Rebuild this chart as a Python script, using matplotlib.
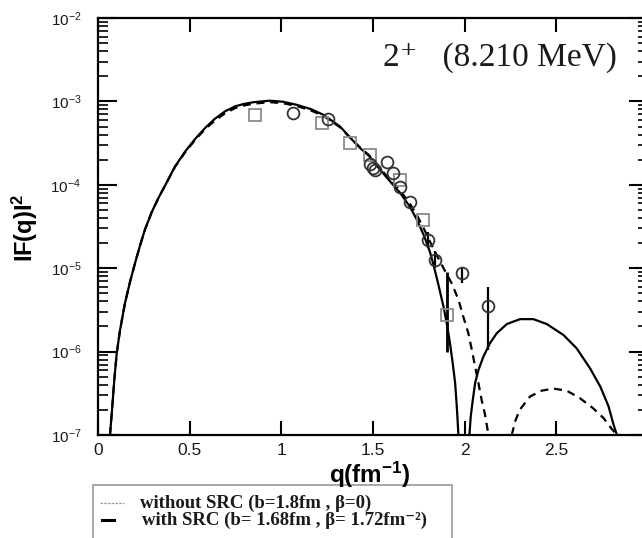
#!/usr/bin/env python3
"""Form factor |F(q)|^2 of the 2+ (8.210 MeV) state with and without SRC."""
import numpy as np
import matplotlib
matplotlib.use('Agg')
import matplotlib.pyplot as plt
from matplotlib.lines import Line2D
from matplotlib.patches import Rectangle
from matplotlib.ticker import LogLocator, FuncFormatter, NullLocator

# with SRC (b = 1.68 fm, beta = 1.72 fm^-2): two diffraction lobes
src_q1 = [0.0655, 0.078, 0.089, 0.102, 0.120, 0.147, 0.175, 0.202, 0.229, 0.256, 0.293, 0.329, 0.375,
          0.42, 0.475, 0.53, 0.584, 0.638, 0.693, 0.747, 0.793, 0.85, 0.938, 1.01, 1.084, 1.16, 1.23,
          1.32, 1.39, 1.43, 1.48, 1.52, 1.59, 1.65, 1.70, 1.74, 1.78, 1.81, 1.83, 1.857, 1.884, 1.902,
          1.92, 1.935, 1.948, 1.957, 1.966]
src_f1 = [1.0e-7, 2.2e-7, 4.6e-7, 9.5e-7, 1.8e-6, 3.8e-6, 6.9e-6, 1.15e-5, 1.86e-5, 2.9e-5, 4.7e-5, 6.9e-5, 1.07e-4,
          1.66e-4, 2.5e-4, 3.55e-4, 4.8e-4, 6.2e-4, 7.6e-4, 8.7e-4, 9.3e-4, 9.8e-4, 1.02e-3, 9.9e-4, 9.1e-4, 8.1e-4, 6.9e-4,
          5.0e-4, 3.4e-4, 2.75e-4, 2.2e-4, 1.7e-4, 1.12e-4, 7.9e-5, 5.5e-5, 3.8e-5, 2.4e-5, 1.58e-5, 1.1e-5, 6.3e-6, 3.5e-6, 2.2e-6,
          1.26e-6, 7.2e-7, 4.2e-7, 2.2e-7, 1.0e-7]
src_q2 = [2.026, 2.033, 2.044, 2.057, 2.075, 2.102, 2.138, 2.175, 2.23, 2.302, 2.375, 2.448, 2.539,
          2.61, 2.684, 2.74, 2.785, 2.81, 2.83]
src_f2 = [1.0e-7, 1.66e-7, 2.6e-7, 4.2e-7, 6.0e-7, 8.7e-7, 1.26e-6, 1.66e-6, 2.14e-6, 2.45e-6, 2.45e-6, 2.14e-6, 1.58e-6,
          1.1e-6, 6.3e-7, 3.8e-7, 2.2e-7, 1.38e-7, 1.0e-7]

# without SRC (b = 1.8 fm, beta = 0)
nosrc_q1 = [0.0655, 0.078, 0.089, 0.102, 0.120, 0.147, 0.175, 0.202, 0.229, 0.256, 0.293, 0.329, 0.375,
            0.42, 0.475, 0.53, 0.584, 0.638, 0.693, 0.747, 0.793, 0.85, 0.938, 1.01, 1.084, 1.16, 1.23,
            1.32, 1.39, 1.43, 1.48, 1.52, 1.59, 1.65, 1.70, 1.74, 1.78, 1.81, 1.85, 1.89, 1.929, 1.966,
            1.993, 2.02, 2.039, 2.057, 2.075, 2.093, 2.11, 2.13]
nosrc_f1 = [1.0e-7, 2.2e-7, 4.6e-7, 9.5e-7, 1.8e-6, 3.8e-6, 6.9e-6, 1.15e-5, 1.86e-5, 2.9e-5, 4.7e-5, 6.9e-5, 1.07e-4,
            1.64e-4, 2.45e-4, 3.45e-4, 4.65e-4, 5.9e-4, 7.2e-4, 8.3e-4, 8.9e-4, 9.4e-4, 9.8e-4, 9.5e-4, 8.8e-4, 7.8e-4, 6.7e-4,
            4.9e-4, 3.4e-4, 2.8e-4, 2.25e-4, 1.75e-4, 1.17e-4, 8.4e-5, 6.0e-5, 4.3e-5, 2.9e-5, 2.1e-5, 1.4e-5, 9.5e-6, 6.6e-6, 4.2e-6,
            2.6e-6, 1.66e-6, 1.05e-6, 6.6e-7, 4.2e-7, 2.6e-7, 1.8e-7, 1.0e-7]
nosrc_q2 = [2.257, 2.275, 2.30, 2.357, 2.42, 2.484, 2.557, 2.63, 2.70, 2.757, 2.80, 2.83]
nosrc_f2 = [1.0e-7, 1.45e-7, 2.0e-7, 2.9e-7, 3.4e-7, 3.6e-7, 3.4e-7, 2.75e-7, 2.1e-7, 1.6e-7, 1.2e-7, 1.0e-7]

# measured points
sq_q = [0.857, 1.22, 1.375, 1.484, 1.648, 1.775, 1.902]
sq_f = [6.9e-4, 5.5e-4, 3.2e-4, 2.3e-4, 1.15e-4, 3.8e-5, 2.75e-6]
sq_lo = [0, 0, 0, 0, 0, 0, 1.0e-6]
sq_hi = [0, 0, 0, 0, 0, 0, 9.1e-6]

ci_q = [1.066, 1.252, 1.484, 1.50, 1.51, 1.575, 1.61, 1.648, 1.70, 1.80, 1.838, 1.984, 2.13]
ci_f = [7.2e-4, 6.2e-4, 1.8e-4, 1.6e-4, 1.5e-4, 1.9e-4, 1.38e-4, 9.5e-5, 6.3e-5, 2.2e-5, 1.26e-5, 8.7e-6, 3.5e-6]
ci_lo = [0, 0, 0, 0, 0, 0, 0, 0, 0, 1.75e-5, 1.0e-5, 6.6e-6, 1.05e-6]
ci_hi = [0, 0, 0, 0, 0, 0, 0, 0, 0, 2.75e-5, 1.6e-5, 1.0e-5, 6.0e-6]

xticks = [0, 0.5, 1, 1.5, 2, 2.5, 3]
xlabels = ['0', '0.5', '1', '1.5', '2', '2.5', '3']

plt.rcParams.update({'font.family': 'Liberation Sans', 'mathtext.fontset': 'custom',
                     'mathtext.rm': 'Liberation Sans', 'mathtext.bf': 'Liberation Sans:bold',
                     'mathtext.it': 'Liberation Sans:italic'})
SERIF = ['Liberation Serif', 'DejaVu Serif']
INK = '#1a1a1a'

fig = plt.figure(figsize=(6.42, 5.38), dpi=100, facecolor='white')
ax = fig.add_axes([98 / 642, 103 / 538, 550 / 642, 417 / 538])
ax.set_yscale('log')
ax.set_xlim(0, 3)
ax.set_ylim(1e-7, 1e-2)

for q, f in [(src_q1, src_f1), (src_q2, src_f2)]:
    ax.plot(q, f, color='black', lw=1.6, solid_joinstyle='round', zorder=3)
for q, f in [(nosrc_q1, nosrc_f1), (nosrc_q2, nosrc_f2)]:
    ax.plot(q, f, color='black', lw=1.6, ls=(0, (3.6, 2.6)), zorder=3)

# error bars only where they were measured
def bars(qs, fs, lo, hi, lw):
    for q, f, a, b in zip(qs, fs, lo, hi):
        if a > 0:
            ax.vlines(q, a, b, color='black', lw=lw, zorder=4)

bars(sq_q, sq_f, sq_lo, sq_hi, 2.0)
bars(ci_q, ci_f, ci_lo, ci_hi, 1.6)
ax.plot(sq_q, sq_f, ls='none', marker='s', ms=8, mfc='none', mec='#8a8a8a', mew=1.3, zorder=5)
ax.plot(ci_q, ci_f, ls='none', marker='o', ms=8.5, mfc='none', mec='#333333', mew=1.3, zorder=5)

for sp in ax.spines.values():
    sp.set_linewidth(1.6)
ax.set_xticks(xticks, xlabels)
ax.xaxis.set_minor_locator(NullLocator())
ax.yaxis.set_major_locator(LogLocator(base=10, numticks=10))
ax.yaxis.set_minor_locator(LogLocator(base=10, subs=np.arange(2, 10), numticks=20))
ax.yaxis.set_major_formatter(FuncFormatter(lambda v, p: r'$\mathregular{10^{%d}}$' % round(np.log10(v))))
ax.tick_params(which='both', direction='in', top=True, right=True, colors='black', labelcolor=INK)
ax.tick_params(axis='x', which='major', length=10, width=1.5, pad=6, labelsize=12.5)
ax.tick_params(axis='y', which='major', length=14, width=1.5, pad=12, labelsize=11)
ax.tick_params(axis='y', which='minor', length=7, width=1.2)

fig.text(383 / 642, 1 - 58 / 538, '2⁺   (8.210 MeV)', family=SERIF, fontsize=24,
         ha='left', va='center', color=INK)

fig.text(25 / 642, 1 - 228 / 538, r'IF(q)I$^{\mathbf{2}}$', rotation=90, fontsize=17,
         fontweight='bold', ha='center', va='center')
fig.text(370 / 642, 1 - 475 / 538, r'q(fm$^{\mathbf{-1}}$)', fontsize=17.5,
         fontweight='bold', ha='center', va='center')

# legend box hanging off the lower edge
fig.patches.append(Rectangle((93 / 642, -0.05), 359 / 642, 53 / 538 + 0.05, transform=fig.transFigure,
                             fill=False, edgecolor='#9a9a9a', lw=1.2))
y1, y2 = 1 - 503 / 538, 1 - 520 / 538
fig.lines.append(Line2D([100 / 642, 124 / 642], [y1, y1], transform=fig.transFigure,
                        color='#9a9a9a', lw=0.9, ls=(0, (2, 1))))
fig.lines.append(Line2D([102 / 642, 114 / 642], [y2, y2], transform=fig.transFigure,
                        color='black', lw=2.2))
fig.text(140 / 642, y1, 'without SRC (b=1.8fm , β=0)', family=SERIF, fontweight='bold',
         fontsize=13.5, ha='left', va='center', color=INK)
fig.text(142 / 642, y2, 'with SRC (b= 1.68fm , β= 1.72fm⁻²)', family=SERIF, fontweight='bold',
         fontsize=13.5, ha='left', va='center', color=INK)

fig.savefig('out.png', dpi=100, facecolor='white')
plt.close(fig)
